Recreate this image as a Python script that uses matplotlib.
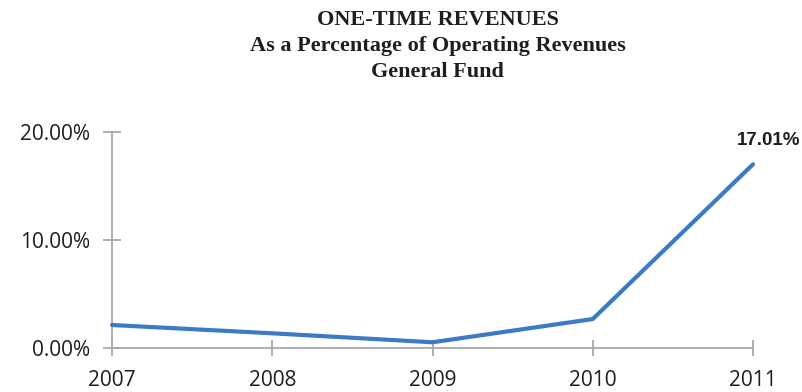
import matplotlib
matplotlib.use('Agg')
import matplotlib.pyplot as plt
from matplotlib.ticker import FuncFormatter

# One-time revenues as share of operating revenues, general fund
years = [2007, 2008, 2009, 2010, 2011]
pct = [0.0213, 0.0136, 0.0053, 0.0268, 0.1701]
ytick_vals = [0.0, 0.10, 0.20]

LINE_BLUE = '#3B7BC6'
AXIS_GREY = '#A8A8A8'
TEXT = '#1E1E1E'

fig = plt.figure(figsize=(8.03, 3.92), dpi=100, facecolor='white')
ax = fig.add_axes([112 / 803, 44 / 392, 641 / 803, 216 / 392])

ax.plot(years, pct, color=LINE_BLUE, linewidth=3.0, solid_capstyle='round',
        solid_joinstyle='round', clip_on=False, zorder=3)

# value label on the last point
ax.annotate(f'{pct[-1] * 100:.2f}%', xy=(years[-1], pct[-1]),
            xytext=(11, 11), textcoords='offset points', ha='center', va='bottom',
            fontsize=13.5, fontweight='bold', color=TEXT, family='Liberation Sans')

ax.set_xlim(years[0], years[-1])
ax.set_ylim(ytick_vals[0], ytick_vals[-1])
ax.set_xticks(years)
ax.set_xticklabels([str(y) for y in years])
ax.set_yticks(ytick_vals)
ax.yaxis.set_major_formatter(FuncFormatter(lambda v, p: f'{v * 100:.2f}%'))

for side in ('top', 'right'):
    ax.spines[side].set_visible(False)
for side in ('left', 'bottom'):
    ax.spines[side].set_color(AXIS_GREY)
    ax.spines[side].set_linewidth(1.3)

ax.tick_params(axis='both', direction='inout', color=AXIS_GREY, width=1.3,
               labelsize=15, labelcolor=TEXT)
ax.tick_params(axis='y', length=13, pad=9)
ax.tick_params(axis='x', length=11, pad=10)
for lab in ax.get_xticklabels() + ax.get_yticklabels():
    lab.set_family('Open Sans')

fig.text(0.545, 0.975, 'ONE-TIME REVENUES\nAs a Percentage of Operating Revenues\nGeneral Fund',
         ha='center', va='top', fontsize=16, fontweight='bold', color=TEXT,
         family='Liberation Serif', linespacing=1.4)

fig.savefig('out.png', dpi=100, facecolor='white')
